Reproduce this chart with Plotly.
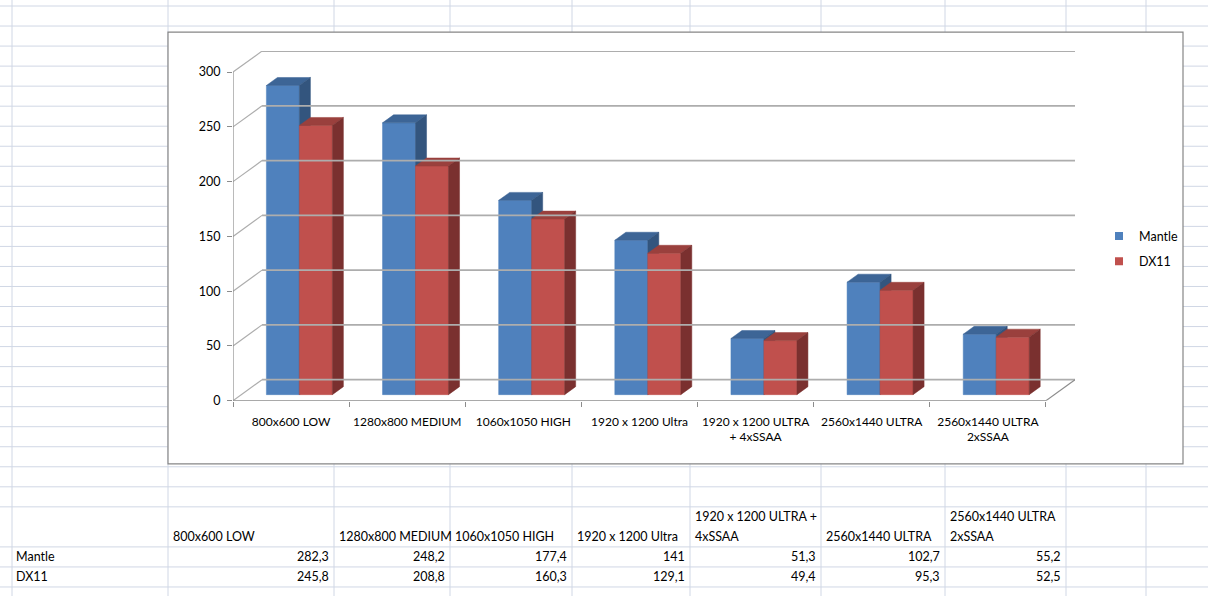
import plotly.graph_objects as go

# --- data ---
chart_labels = ["800x600 LOW", "1280x800 MEDIUM", "1060x1050 HIGH", "1920 x 1200 Ultra",
                "1920 x 1200 ULTRA<br>+ 4xSSAA", "2560x1440 ULTRA", "2560x1440 ULTRA<br>2xSSAA"]
sheet_labels = ["800x600 LOW", "1280x800 MEDIUM", "1060x1050 HIGH", "1920 x 1200 Ultra",
                "1920 x 1200 ULTRA +<br>4xSSAA", "2560x1440 ULTRA", "2560x1440 ULTRA<br>2xSSAA"]
mantle = [282.3, 248.2, 177.4, 141, 51.3, 102.7, 55.2]
dx11 = [245.8, 208.8, 160.3, 129.1, 49.4, 95.3, 52.5]
y_ticks = [0, 50, 100, 150, 200, 250, 300]

series = [
    ("Mantle", mantle, "#4F81BD", "#3D6596", "#33557E"),
    ("DX11", dx11, "#C0504D", "#9A403D", "#7A302F"),
]

W, H = 1208, 596
FIG_H = 604  # the capture squeezes the page a little vertically
FONT = "Lato"

# 3d look: depth offset in axis units
DX, DY = 0.25, 19.2
T0, T1 = 0.286, 0.666
BAR_W = 0.284
GAP = (1 - 2 * BAR_W) / 2
n = len(chart_labels)


def proj(x, v, t):
    return x + t * DX, v + t * DY


def px(x):
    return x / W


def py(y):
    return 1 - y / H


fig = go.Figure()

for j, (name, vals, c_front, c_top, c_side) in enumerate(series):
    faces = {"front": ([], []), "top": ([], []), "side": ([], [])}
    for i, v in enumerate(vals):
        xl = i - 0.5 + GAP + j * BAR_W
        xr = xl + BAR_W
        polys = {
            "front": [proj(xl, 0, T0), proj(xr, 0, T0), proj(xr, v, T0), proj(xl, v, T0)],
            "top": [proj(xl, v, T0), proj(xr, v, T0), proj(xr, v, T1), proj(xl, v, T1)],
            "side": [proj(xr, 0, T0), proj(xr, v, T0), proj(xr, v, T1), proj(xr, 0, T1)],
        }
        for k, pts in polys.items():
            xs, ys = faces[k]
            xs += [p[0] for p in pts] + [pts[0][0], None]
            ys += [p[1] for p in pts] + [pts[0][1], None]
    for k, col in (("front", c_front), ("top", c_top), ("side", c_side)):
        fig.add_trace(go.Scatter(
            x=faces[k][0], y=faces[k][1], mode="lines", fill="toself",
            fillcolor=col, line=dict(color=col, width=0.5),
            showlegend=False, hoverinfo="skip"))

# legend entries
for name, vals, c_front, _, _ in series:
    fig.add_trace(go.Scatter(
        x=[None], y=[None], mode="markers", name=name, legendgroup=name,
        marker=dict(symbol="square", size=8, color=c_front)))

shapes = []

# spreadsheet grid
grid_col = "#D0D7E5"
col_x = [12, 168, 334, 450, 572, 690, 821, 945, 1066, 1146]
row_y = [6 + 20 * k for k in range(26)] + [546, 566, 586]
for x in col_x:
    shapes.append(dict(type="line", xref="paper", yref="paper", x0=px(x), x1=px(x),
                       y0=0, y1=1, line=dict(color=grid_col, width=1), layer="below"))
for y in row_y:
    shapes.append(dict(type="line", xref="paper", yref="paper", x0=0, x1=1,
                       y0=py(y), y1=py(y), line=dict(color=grid_col, width=1), layer="below"))

# chart object frame
shapes.append(dict(type="rect", xref="paper", yref="paper", x0=px(168), x1=px(1183),
                   y0=py(463), y1=py(32), fillcolor="white",
                   line=dict(color="#868686", width=1.2), layer="below"))

# 3d walls
wall_col = "#ADADAD"
x_left, x_right = -0.5, n - 0.5
for t in y_ticks:
    shapes.append(dict(type="line", xref="x", yref="y", x0=x_left, y0=t,
                       x1=x_left + DX, y1=t + DY, line=dict(color=wall_col, width=1.2)))
    shapes.append(dict(type="line", xref="x", yref="y", x0=x_left + DX, y0=t + DY,
                       x1=x_right + DX, y1=t + DY, line=dict(color=wall_col, width=1.6)))
shapes.append(dict(type="line", xref="x", yref="y", x0=x_left, y0=0, x1=x_left, y1=y_ticks[-1],
                   line=dict(color="#8C8C8C", width=1.2)))
shapes.append(dict(type="line", xref="x", yref="y", x0=x_left, y0=0, x1=x_right, y1=0,
                   line=dict(color="#8C8C8C", width=1.2)))
shapes.append(dict(type="line", xref="x", yref="y", x0=x_right, y0=0, x1=x_right + DX, y1=DY,
                   line=dict(color="#8C8C8C", width=1.2)))

# spreadsheet text
annotations = []
sheet_font = dict(family=FONT, size=12.5, color="black")


def fmt(v):
    return f"{v:g}".replace(".", ",")


for i, lab in enumerate(sheet_labels):
    lines = lab.split("<br>")
    for k, line in enumerate(reversed(lines)):
        annotations.append(dict(xref="paper", yref="paper", x=px(col_x[i + 1] + 3),
                                y=py(536 - 20 * k), text=line, showarrow=False,
                                xanchor="left", yanchor="middle", font=sheet_font))
for r, (name, vals, *_ ) in enumerate(series):
    yc = 556 + 20 * r
    annotations.append(dict(xref="paper", yref="paper", x=px(col_x[0] + 2), y=py(yc),
                            text=name, showarrow=False, xanchor="left", yanchor="middle",
                            font=sheet_font))
    for i, v in enumerate(vals):
        annotations.append(dict(xref="paper", yref="paper", x=px(col_x[i + 2] - 3), y=py(yc),
                                text=fmt(v), showarrow=False, xanchor="right",
                                yanchor="middle", font=sheet_font))

fig.update_layout(
    width=W, height=FIG_H, autosize=False,
    margin=dict(l=0, r=0, t=0, b=0),
    paper_bgcolor="white", plot_bgcolor="rgba(0,0,0,0)",
    font=dict(family=FONT, size=12, color="black"),
    shapes=shapes, annotations=annotations,
    legend=dict(x=px(1099), y=py(221), xanchor="left", yanchor="top",
                font=dict(family=FONT, size=12.5), tracegroupgap=6,
                bgcolor="rgba(0,0,0,0)"),
    xaxis=dict(domain=[px(233), px(1075)], range=[x_left, x_right + DX],
               tickvals=list(range(n)), ticktext=chart_labels, ticks="",
               showgrid=False, zeroline=False, showline=False,
               ticklabelstandoff=12, tickfont=dict(size=12),
               minor=dict(tickvals=[x_left + k for k in range(n + 1)], ticks="outside",
                          ticklen=5, tickcolor="#8C8C8C", showgrid=False)),
    yaxis=dict(domain=[py(400), py(51)], range=[0, y_ticks[-1] + DY],
               tickvals=y_ticks, ticks="outside", ticklen=5, tickcolor="#8C8C8C",
               ticklabelstandoff=4,
               showgrid=False, zeroline=False, showline=False, tickfont=dict(size=12.5)),
)

page_fix = ("var s=document.documentElement.style, b=document.body.style;"
            "s.margin=b.margin='0'; s.padding=b.padding='0'; s.overflow=b.overflow='hidden';")
fig.write_html("out.html", config={"displayModeBar": False}, post_script=page_fix)
